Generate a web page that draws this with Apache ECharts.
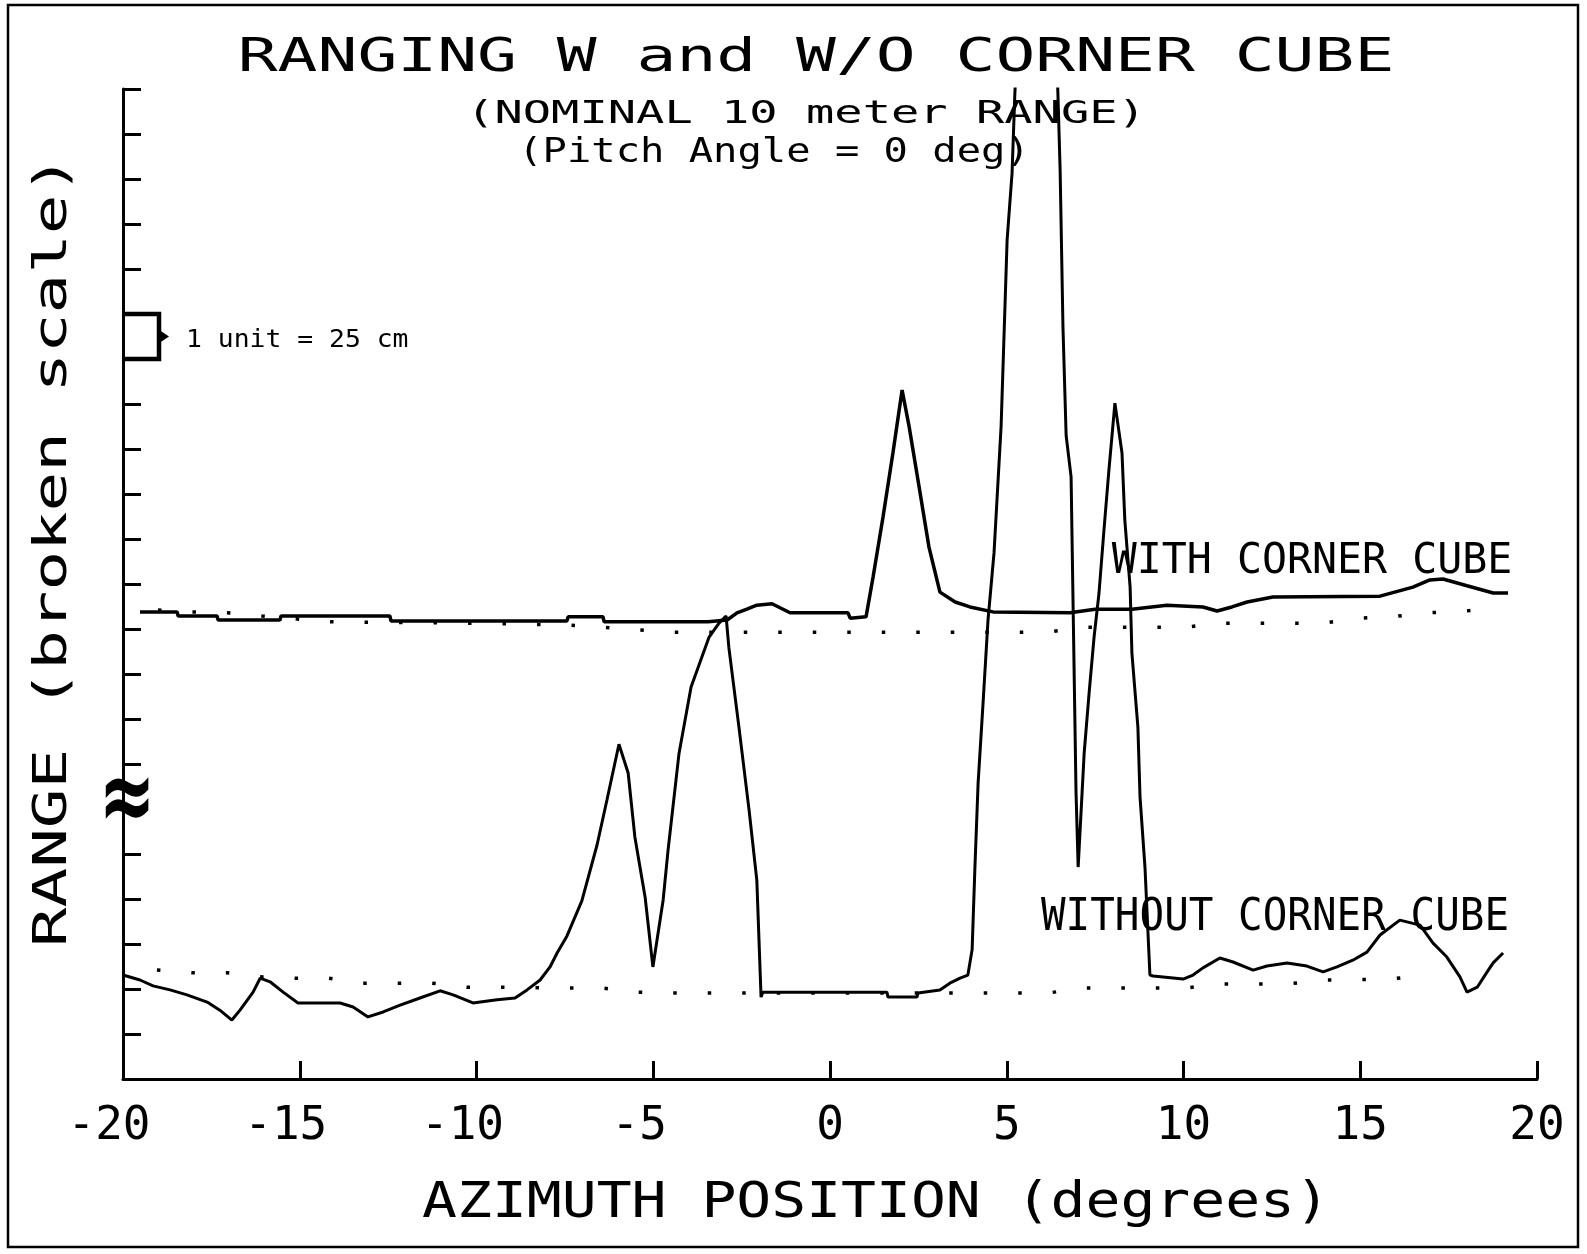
<!DOCTYPE html>
<html>
<head>
<meta charset="utf-8">
<script src="https://cdn.jsdelivr.net/npm/echarts@6/dist/echarts.min.js"></script>
<style>
  html, body { margin: 0; padding: 0; background: #fff; }
  #main { width: 1587px; height: 1254px; }
</style>
</head>
<body>
<div id="main"></div>
<script>
// ranging plot, azimuth (deg) vs range (broken scale, 1 unit = 25 cm)
var xTicks = { min: -20, max: 20, step: 5 };
var yTicks = [1, 2, 3, 4, 5, 7, 8, 9, 10, 11, 12, 13, 14, 15, 16, 17, 18, 19, 20, 21, 22];

var withCube = [
  [-19.52, 10.38], [-18.47, 10.38], [-18.44, 10.29], [-17.34, 10.29], [-17.31, 10.2],
  [-15.56, 10.2], [-15.53, 10.29], [-12.45, 10.29], [-12.42, 10.18], [-7.44, 10.18],
  [-7.41, 10.27], [-6.42, 10.27], [-6.39, 10.16], [-3.45, 10.16], [-2.91, 10.2],
  [-2.63, 10.36], [-2.35, 10.44], [-2.07, 10.53], [-1.64, 10.56], [-1.13, 10.36],
  [0.51, 10.36], [0.57, 10.24], [1.02, 10.27], [1.22, 11.16], [1.5, 12.49],
  [1.78, 13.91], [2.04, 15.31], [2.24, 14.49], [2.52, 13.16], [2.8, 11.82],
  [3.11, 10.82], [3.54, 10.6], [3.96, 10.49], [4.61, 10.38], [6.79, 10.36],
  [7.5, 10.44], [8.54, 10.44], [9.53, 10.53], [10.55, 10.49], [10.95, 10.4],
  [11.37, 10.49], [11.8, 10.6], [12.53, 10.71], [15.56, 10.73], [16.49, 10.93],
  [16.97, 11.09], [17.34, 11.11], [18.02, 10.96], [18.76, 10.8], [19.18, 10.8]
];

var withoutCube = [
  [-20, 2.31], [-19.52, 2.2], [-19.15, 2.07], [-18.67, 1.98], [-18.19, 1.87],
  [-17.62, 1.71], [-17.26, 1.53], [-16.92, 1.31], [-16.69, 1.53], [-16.32, 1.93],
  [-16.12, 2.24], [-15.84, 2.16], [-15.47, 1.93], [-15.05, 1.69], [-13.86, 1.69],
  [-13.49, 1.6], [-13.07, 1.38], [-12.64, 1.49], [-12.16, 1.64], [-11.6, 1.8],
  [-11.03, 1.96], [-10.66, 1.87], [-10.1, 1.69], [-9.42, 1.76], [-8.91, 1.8],
  [-8.57, 1.98], [-8.2, 2.2], [-7.92, 2.49], [-7.72, 2.8], [-7.44, 3.18],
  [-7.02, 3.96], [-6.59, 5.2], [-6.31, 6.2], [-5.97, 7.44], [-5.71, 6.8],
  [-5.52, 5.38], [-5.23, 4.04], [-5.01, 2.49], [-4.72, 3.98], [-4.58, 5.09],
  [-4.27, 7.24], [-3.93, 8.71], [-3.42, 9.82], [-3.14, 10.13], [-2.94, 10.29],
  [-2.86, 9.58], [-2.57, 7.78], [-2.29, 5.98], [-2.07, 4.42], [-1.95, 1.82],
  [-1.9, 1.93], [1.61, 1.93], [1.64, 1.82], [2.46, 1.82], [2.49, 1.91],
  [3.11, 1.98], [3.39, 2.13], [3.68, 2.24], [3.9, 2.31], [4.02, 2.87],
  [4.1, 4.71], [4.19, 6.58], [4.33, 8.36], [4.47, 10.2], [4.64, 11.69],
  [4.84, 14.5], [5.01, 18.64], [5.15, 20.13], [5.23, 21.91], [5.4, 24.5],
  [6.35, 24.5], [6.51, 20.2], [6.59, 16.71], [6.68, 14.3], [6.82, 13.38],
  [6.96, 6.36], [7.02, 4.71], [7.19, 7.24], [7.33, 8.58], [7.47, 9.82],
  [7.61, 10.8], [7.75, 12.2], [7.89, 13.53], [8.06, 15.02], [8.26, 13.91],
  [8.34, 12.42], [8.49, 10.93], [8.54, 9.47], [8.71, 7.82], [8.77, 6.27],
  [8.91, 4.71], [9.05, 2.31], [9.14, 2.29], [9.99, 2.22], [10.27, 2.31],
  [10.55, 2.47], [11.03, 2.69], [11.4, 2.6], [11.97, 2.42], [12.36, 2.51],
  [12.93, 2.58], [13.49, 2.51], [13.95, 2.38], [14.34, 2.49], [14.79, 2.64],
  [15.19, 2.82], [15.56, 3.2], [16.12, 3.53], [16.69, 3.42], [17.06, 3.02],
  [17.45, 2.71], [17.82, 2.27], [18.02, 1.93], [18.31, 2.04], [18.59, 2.38],
  [18.76, 2.58], [19.04, 2.8]
];

// dotted nominal-range lines
var refWith = [
  [-19.01, 10.42], [-18.05, 10.38], [-17.06, 10.36], [-16.07, 10.29], [-14.14, 10.16],
  [-10.27, 10.13], [-7.41, 10.09], [-6.45, 10.04], [-5.46, 9.98], [-4.47, 9.93],
  [6.17, 9.93], [7.13, 10.04], [10.04, 10.04], [11.03, 10.13], [13.95, 10.13],
  [14.91, 10.24], [15.9, 10.27], [16.83, 10.36], [17.77, 10.38], [18.76, 10.47]
];
var refWithout = [
  [-19.04, 2.42], [-18.05, 2.36], [-17.06, 2.36], [-16.12, 2.27], [-15.13, 2.24],
  [-14.2, 2.24], [-13.21, 2.13], [-11.26, 2.13], [-10.27, 2.04], [-9.28, 2.04],
  [-7.36, 2.02], [-6.42, 2.02], [-5.46, 1.93], [-4.53, 1.91], [6.17, 1.91],
  [7.13, 2.02], [10.04, 2.02], [10.98, 2.11], [12.93, 2.11], [13.92, 2.2],
  [15.84, 2.22], [16.83, 2.31]
];

var titleText = 'RANGING W and W/O CORNER CUBE';
var subText1 = '(NOMINAL 10 meter RANGE)';
var subText2 = '(Pitch Angle = 0 deg)';
var xName = 'AZIMUTH POSITION (degrees)';
var yName = 'RANGE (broken scale)';
var withLabel = 'WITH CORNER CUBE';
var withoutLabel = 'WITHOUT CORNER CUBE';
var unitText = '1 unit = 25 cm';

var MONO = 'DejaVu Sans Mono';

function txt(text, x, y, size, sx, rot) {
  return {
    type: 'text', x: x, y: y, scaleX: sx || 1, rotation: rot || 0, z: 10,
    style: {
      text: text, fontFamily: MONO, fontSize: size, fill: '#000',
      align: 'center', verticalAlign: 'middle',
      textAlign: 'center', textVerticalAlign: 'middle'
    }
  };
}

function plotLine(name, data, width) {
  return {
    name: name, type: 'line', data: data, symbol: 'none', clip: true,
    lineStyle: { color: '#000', width: width }, z: 3
  };
}
function dotLine(name, data) {
  return {
    name: name, type: 'line', data: data, symbol: 'none', clip: true,
    lineStyle: { color: '#000', width: 3.5, type: [3.5, 31] }, z: 2
  };
}

var chart = echarts.init(document.getElementById('main'));
var option = {
  animation: false,
  backgroundColor: '#fff',
  grid: { left: 123, right: 50, top: 89, bottom: 175 },
  xAxis: {
    type: 'value', min: xTicks.min, max: xTicks.max, interval: xTicks.step,
    splitLine: { show: false },
    axisLine: { onZero: false, lineStyle: { color: '#000', width: 3 } },
    axisTick: { inside: true, length: 18, lineStyle: { color: '#000', width: 3 } },
    axisLabel: {
      margin: 25, color: '#000', fontFamily: MONO, fontSize: 46,
      formatter: function (v) { return v < 0 ? '{n|' + v + '}' : '{p|' + v + '}'; },
      rich: {
        n: { fontFamily: MONO, fontSize: 46, color: '#000', padding: [0, 28, 0, 0] },
        p: { fontFamily: MONO, fontSize: 46, color: '#000' }
      }
    }
  },
  yAxis: {
    type: 'value', min: 0, max: 22, interval: 1,
    splitLine: { show: false },
    axisLine: { show: true, onZero: false, lineStyle: { color: '#000', width: 3 } },
    axisTick: { inside: true, length: 18, customValues: yTicks, lineStyle: { color: '#000', width: 3 } },
    axisLabel: { show: false }
  },
  series: [
    dotLine('ref with', refWith),
    dotLine('ref without', refWithout),
    plotLine('WITH CORNER CUBE', withCube, 3.5),
    plotLine('WITHOUT CORNER CUBE', withoutCube, 3)
  ],
  graphic: [
    { type: 'rect', shape: { x: 8, y: 5, width: 1570, height: 1242 },
      style: { fill: 'none', stroke: '#000', lineWidth: 2.5 } },
    txt(titleText, 816, 59, 46, 1.44),
    txt(subText1, 806, 115, 32, 1.47),
    txt(subText2, 774, 153, 34, 1.19),
    txt(yName, 54, 551, 46, 1.43, Math.PI / 2),
    txt(xName, 876, 1204, 50, 1.16),
    txt(withLabel, 1312, 562, 42, 0.99),
    txt(withoutLabel, 1275, 919, 44, 0.93)
  ]
};
chart.setOption(option);

// bracket "1 unit" marker and the axis break, placed from the y scale
var pTop = chart.convertToPixel({ gridIndex: 0 }, [-20, 17]);
var pBot = chart.convertToPixel({ gridIndex: 0 }, [-20, 16]);
var pBrk = chart.convertToPixel({ gridIndex: 0 }, [-20, 6]);
var ax = pTop[0], ym = (pTop[1] + pBot[1]) / 2;
var extra = [
  { type: 'polyline', z: 11,
    shape: { points: [[ax + 2, pTop[1]], [ax + 36, pTop[1]], [ax + 36, pBot[1]], [ax + 2, pBot[1]]] },
    style: { fill: 'none', stroke: '#000', lineWidth: 4.5 } },
  { type: 'polygon', z: 11,
    shape: { points: [[ax + 37, ym - 6], [ax + 46, ym], [ax + 37, ym + 6]] },
    style: { fill: '#000' } },
  { type: 'text', x: ax + 63, y: ym + 4, z: 11, scaleX: 1.1,
    style: { text: unitText, fontFamily: MONO, fontSize: 24, fill: '#000',
      align: 'left', verticalAlign: 'middle', textAlign: 'left', textVerticalAlign: 'middle' } },
  { type: 'text', x: pBrk[0] + 4, y: pBrk[1] - 6, z: 11, scaleY: 1.5,
    style: { text: '\u2248', fontFamily: 'DejaVu Sans', fontSize: 68, fontWeight: 'bold', fill: '#000',
      align: 'center', verticalAlign: 'middle', textAlign: 'center', textVerticalAlign: 'middle' } }
];
chart.setOption({ graphic: option.graphic.concat(extra) });
</script>
</body>
</html>
